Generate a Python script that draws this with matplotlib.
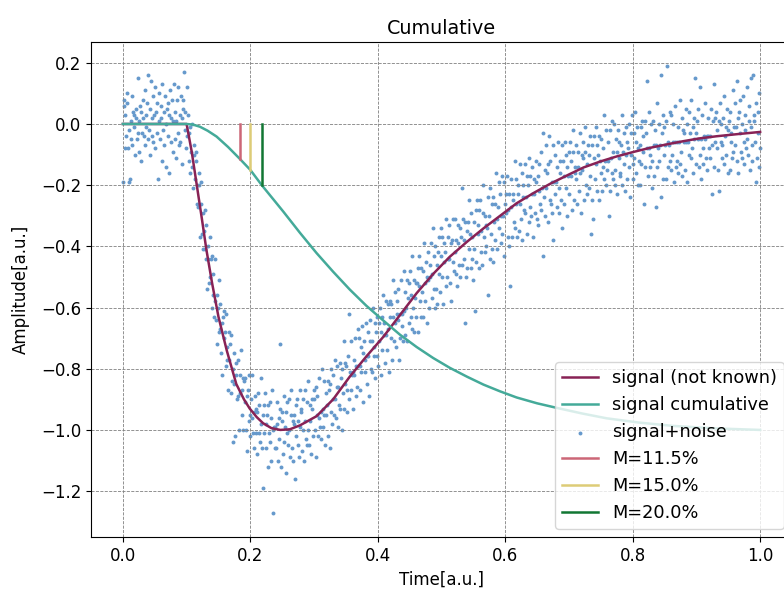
import numpy as np
import matplotlib.pyplot as plt

plt.rcParams['font.size'] = 12

# smooth signal
signal_t = [0.0, 0.1, 0.108, 0.116, 0.124, 0.131, 0.140, 0.150, 0.163, 0.178, 0.190,
            0.199, 0.210, 0.220, 0.233, 0.247, 0.262, 0.278, 0.304, 0.33, 0.356, 0.382,
            0.409, 0.435, 0.461, 0.487, 0.513, 0.54, 0.566, 0.592, 0.618, 0.645, 0.670,
            0.70, 0.723, 0.75, 0.775, 0.80, 0.827, 0.855, 0.880, 0.905, 0.932, 0.965, 1.0]
signal_v = [0, 0, -0.09, -0.20, -0.31, -0.41, -0.52, -0.63, -0.74, -0.85, -0.90,
            -0.93, -0.958, -0.978, -0.994, -1.0, -0.998, -0.985, -0.955, -0.90, -0.826, -0.76,
            -0.695, -0.624, -0.553, -0.49, -0.434, -0.385, -0.341, -0.30, -0.259, -0.225, -0.196,
            -0.165, -0.142, -0.122, -0.106, -0.092, -0.078, -0.066, -0.056, -0.047, -0.040, -0.033, -0.026]

# cumulative of the signal
cum_t = [0.0, 0.1, 0.11, 0.121, 0.133, 0.147, 0.165, 0.184, 0.2, 0.218, 0.236, 0.252, 0.278,
         0.304, 0.33, 0.356, 0.382, 0.409, 0.435, 0.461, 0.487, 0.513, 0.54, 0.566, 0.592,
         0.618, 0.65, 0.681, 0.72, 0.759, 0.81, 0.864, 0.93, 1.0]
cum_v = [0, 0, -0.002, -0.009, -0.022, -0.041, -0.075, -0.115, -0.150, -0.200, -0.246, -0.287, -0.356,
         -0.422, -0.483, -0.541, -0.594, -0.643, -0.689, -0.729, -0.765, -0.797, -0.826, -0.852, -0.874,
         -0.894, -0.913, -0.928, -0.946, -0.962, -0.976, -0.987, -0.995, -1.0]

# thresholds
m_labels = ['M=11.5%', 'M=15.0%', 'M=20.0%']
m_levels = [0.115, 0.15, 0.20]
m_times = [0.184, 0.199, 0.218]
m_colors = ['#CC6677', '#DDCC77', '#117733']

# noisy samples, evenly spaced in time
noisy = [
    -0.19, 0.08, 0.06, -0.08, 0.03, -0.04, 0.10, 0.07, -0.08, -0.02,
    -0.19, -0.18, 0.01, -0.05, 0.09, -0.07, 0.04, -0.01, 0.03, -0.10,
    0.02, 0.05, -0.05, 0.15, -0.03, 0.01, -0.09, 0.06, -0.12, 0.04,
    -0.03, 0.08, 0.02, -0.04, 0.11, -0.07, 0.03, -0.01, 0.07, -0.05,
    0.16, -0.02, 0.05, -0.10, 0.14, 0.02, -0.04, 0.09, -0.06, 0.03,
    -0.08, 0.12, 0.04, -0.03, 0.07, -0.18, 0.01, 0.10, -0.05, 0.02,
    0.06, -0.12, 0.13, -0.02, 0.04, -0.07, 0.09, 0.00, -0.14, 0.05,
    -0.04, 0.07, -0.16, 0.03, 0.11, -0.06, 0.02, 0.08, -0.09, 0.01,
    0.13, -0.05, 0.04, -0.11, 0.01, 0.08, -0.03, 0.12, -0.07, 0.03,
    -0.06, 0.09, 0.02, -0.13, 0.05, 0.08, 0.17, -0.02, 0.04, -0.08,
    0.12, -0.04, 0.03, -0.12, -0.03, -0.16, -0.01, -0.09, 0.00, -0.14,
    -0.21, -0.10, -0.07, -0.18, -0.12, -0.09, -0.26, -0.20, -0.27, -0.16,
    -0.20, -0.37, -0.26, -0.19, -0.36, -0.29, -0.41, -0.35, -0.28, -0.41,
    -0.44, -0.33, -0.54, -0.40, -0.44, -0.52, -0.37, -0.50, -0.44, -0.60,
    -0.43, -0.56, -0.49, -0.63, -0.44, -0.58, -0.64, -0.56, -0.72, -0.60,
    -0.68, -0.51, -0.67, -0.59, -0.75, -0.65, -0.82, -0.63, -0.70, -0.61,
    -0.68, -0.79, -0.62, -0.77, -0.73, -0.87, -0.68, -0.77, -0.72, -0.88,
    -0.69, -0.84, -1.04, -0.80, -0.75, -0.85, -1.02, -0.78, -0.82, -0.90,
    -0.89, -0.77, -1.00, -0.82, -0.88, -0.74, -0.95, -0.87, -1.00, -0.83,
    -0.84, -0.91, -0.83, -1.00, -0.89, -1.07, -0.87, -0.97, -0.82, -0.95,
    -1.02, -0.90, -0.96, -0.82, -1.01, -0.94, -1.06, -0.89, -0.93, -1.01,
    -0.94, -1.08, -0.88, -1.01, -0.92, -1.04, -0.83, -0.98, -1.06, -0.95,
    -1.19, -0.92, -1.01, -0.88, -1.06, -0.98, -0.95, -1.12, -0.92, -1.01,
    -0.91, -1.04, -0.96, -1.10, -0.87, -1.00, -1.27, -0.99, -1.06, -0.99,
    -1.06, -0.91, -0.98, -1.10, -0.96, -1.03, -0.93, -0.72, -1.12, -0.94,
    -0.97, -1.08, -0.89, -1.04, -0.99, -1.14, -0.94, -1.01, -0.91, -1.05,
    -0.90, -1.00, -1.09, -0.95, -0.87, -1.06, -0.97, -1.10, -0.95, -0.98,
    -1.16, -0.92, -1.02, -0.90, -1.05, -0.97, -1.09, -0.87, -0.99, -0.93,
    -0.94, -1.07, -0.90, -1.00, -1.10, -0.87, -0.97, -1.03, -0.91, -1.05,
    -1.00, -0.84, -1.05, -0.92, -0.97, -1.08, -0.90, -0.93, -1.02, -0.87,
    -0.90, -1.00, -0.86, -1.09, -0.95, -0.89, -1.02, -0.96, -0.83, -0.99,
    -1.03, -0.94, -0.80, -0.99, -0.93, -0.95, -0.84, -1.05, -0.88, -0.95,
    -0.92, -1.02, -0.84, -0.87, -1.06, -0.85, -0.94, -0.80, -0.98, -0.90,
    -0.82, -0.95, -0.90, -0.77, -0.96, -0.86, -0.79, -0.99, -0.86, -0.92,
    -0.93, -0.78, -0.83, -1.00, -0.80, -0.88, -0.71, -0.93, -0.85, -0.78,
    -0.79, -0.87, -0.94, -0.76, -0.62, -0.90, -0.81, -0.71, -0.87, -0.82,
    -0.93, -0.81, -0.77, -0.82, -0.70, -0.89, -0.79, -0.86, -0.67, -0.79,
    -0.70, -0.79, -0.87, -0.73, -0.81, -0.66, -0.91, -0.75, -0.71, -0.77,
    -0.81, -0.65, -0.76, -0.85, -0.68, -0.76, -0.89, -0.71, -0.64, -0.80,
    -0.71, -0.81, -0.60, -0.76, -0.73, -0.65, -0.83, -0.68, -0.76, -0.63,
    -0.79, -0.65, -0.71, -0.60, -0.82, -0.68, -0.63, -0.74, -0.56, -0.69,
    -0.65, -0.78, -0.58, -0.69, -0.74, -0.59, -0.67, -0.81, -0.63, -0.58,
    -0.70, -0.59, -0.77, -0.63, -0.51, -0.71, -0.65, -0.55, -0.73, -0.62,
    -0.58, -0.64, -0.54, -0.77, -0.62, -0.70, -0.51, -0.62, -0.66, -0.71,
    -0.61, -0.48, -0.69, -0.55, -0.60, -0.51, -0.71, -0.57, -0.52, -0.65,
    -0.48, -0.63, -0.56, -0.67, -0.43, -0.60, -0.51, -0.68, -0.57, -0.52,
    -0.63, -0.52, -0.47, -0.68, -0.53, -0.43, -0.58, -0.63, -0.47, -0.55,
    -0.48, -0.63, -0.39, -0.52, -0.58, -0.45, -0.50, -0.65, -0.42, -0.51,
    -0.60, -0.46, -0.50, -0.39, -0.57, -0.49, -0.34, -0.54, -0.43, -0.60,
    -0.40, -0.54, -0.46, -0.59, -0.42, -0.49, -0.37, -0.55, -0.43, -0.34,
    -0.50, -0.37, -0.59, -0.39, -0.45, -0.42, -0.53, -0.31, -0.50, -0.44,
    -0.37, -0.44, -0.33, -0.52, -0.39, -0.58, -0.38, -0.45, -0.31, -0.48,
    -0.42, -0.31, -0.49, -0.38, -0.53, -0.33, -0.39, -0.46, -0.34, -0.50,
    -0.37, -0.21, -0.46, -0.31, -0.44, -0.38, -0.32, -0.65, -0.50, -0.35,
    -0.47, -0.32, -0.25, -0.41, -0.36, -0.47, -0.29, -0.44, -0.37, -0.51,
    -0.32, -0.41, -0.61, -0.28, -0.45, -0.25, -0.36, -0.33, -0.47, -0.28,
    -0.25, -0.42, -0.35, -0.46, -0.29, -0.20, -0.37, -0.42, -0.30, -0.33,
    -0.40, -0.34, -0.56, -0.24, -0.30, -0.44, -0.21, -0.36, -0.26, -0.41,
    -0.24, -0.45, -0.32, -0.26, -0.38, -0.16, -0.31, -0.41, -0.27, -0.19,
    -0.34, -0.23, -0.39, -0.30, -0.17, -0.36, -0.30, -0.19, -0.43, -0.26,
    -0.23, -0.29, -0.17, -0.37, -0.28, -0.40, -0.23, -0.53, -0.18, -0.27,
    -0.37, -0.23, -0.25, -0.32, -0.12, -0.34, -0.18, -0.26, -0.37, -0.20,
    -0.23, -0.35, -0.13, -0.26, -0.31, -0.16, -0.38, -0.20, -0.24, -0.28,
    -0.13, -0.29, -0.24, -0.17, -0.36, -0.20, -0.11, -0.32, -0.27, -0.17,
    -0.30, -0.23, -0.14, -0.37, -0.18, -0.23, -0.29, -0.12, -0.19, -0.31,
    -0.17, -0.33, -0.22, -0.13, -0.26, -0.09, -0.28, -0.21, -0.43, -0.03,
    -0.24, -0.15, -0.30, -0.07, -0.21, -0.16, -0.32, -0.13, -0.04, -0.25,
    -0.12, -0.26, -0.19, -0.29, -0.07, -0.38, -0.19, -0.23, -0.10, -0.19,
    -0.27, -0.14, -0.06, -0.21, -0.29, -0.12, -0.16, -0.25, -0.07, -0.34,
    -0.12, -0.26, -0.17, -0.06, -0.21, -0.10, -0.30, -0.14, -0.17, -0.09,
    -0.23, -0.06, -0.17, -0.12, -0.28, -0.09, -0.02, -0.25, -0.14, -0.16,
    -0.07, -0.18, -0.26, -0.09, -0.14, -0.22, -0.03, -0.16, -0.29, -0.10,
    -0.15, -0.06, -0.11, -0.25, -0.09, -0.01, -0.20, -0.23, -0.13, -0.07,
    -0.10, -0.21, -0.04, -0.17, -0.36, -0.07, -0.25, -0.31, -0.11, -0.04,
    -0.18, -0.01, -0.13, -0.07, -0.22, -0.10, -0.25, -0.04, -0.12, -0.16,
    -0.05, -0.22, -0.08, -0.14, 0.03, -0.18, -0.12, -0.20, -0.02, -0.15,
    -0.12, -0.06, -0.30, -0.02, -0.22, -0.11, -0.16, 0.01, -0.18, -0.09,
    0.00, -0.15, -0.20, -0.05, -0.09, -0.23, -0.02, -0.11, -0.06, -0.17,
    -0.16, -0.07, 0.03, -0.20, -0.09, -0.03, -0.13, -0.22, -0.01, -0.10,
    -0.06, -0.18, -0.08, 0.00, -0.14, -0.24, -0.03, -0.10, 0.03, -0.13,
    -0.18, -0.03, -0.11, 0.04, -0.16, -0.06, -0.01, -0.20, -0.08, -0.12,
    -0.07, -0.20, -0.01, -0.13, 0.01, -0.09, -0.04, -0.26, 0.01, -0.14,
    -0.03, -0.08, 0.14, -0.17, -0.08, 0.04, -0.14, -0.10, 0.00, -0.21,
    -0.12, 0.01, -0.07, -0.17, -0.02, -0.27, -0.07, -0.14, 0.07, -0.08,
    0.00, -0.12, -0.07, 0.16, -0.24, -0.03, -0.18, 0.03, -0.10, -0.01,
    -0.07, 0.01, -0.18, 0.19, -0.06, -0.14, -0.07, 0.04, -0.12, -0.15,
    0.03, -0.10, -0.06, 0.00, -0.19, -0.06, 0.06, -0.14, -0.06, -0.12,
    -0.16, -0.01, -0.06, -0.13, 0.08, -0.09, 0.02, -0.17, -0.02, -0.06,
    -0.03, -0.15, 0.05, -0.06, 0.00, -0.19, -0.06, 0.04, -0.10, -0.03,
    -0.11, 0.08, -0.08, -0.01, -0.16, 0.02, -0.05, 0.15, -0.13, -0.03,
    0.01, -0.05, 0.05, -0.14, 0.12, -0.10, -0.05, -0.18, 0.03, -0.08,
    -0.13, -0.04, -0.05, 0.07, -0.11, -0.04, -0.15, 0.02, -0.04, -0.08,
    -0.04, -0.11, 0.05, -0.07, -0.23, 0.01, 0.13, -0.14, 0.02, -0.06,
    0.04, -0.08, -0.02, -0.15, 0.01, -0.22, 0.07, -0.06, 0.00, -0.11,
    -0.07, 0.02, -0.13, 0.09, -0.04, -0.01, -0.10, 0.05, -0.16, -0.02,
    0.01, -0.15, 0.04, -0.06, -0.03, -0.11, 0.11, -0.09, -0.01, 0.07,
    -0.07, -0.01, -0.12, 0.14, 0.02, -0.16, 0.04, -0.03, 0.08, -0.09,
    0.00, -0.11, 0.09, -0.06, -0.13, 0.03, -0.02, -0.08, 0.12, -0.05,
    -0.10, 0.06, 0.01, -0.15, 0.15, -0.01, -0.07, -0.12, 0.16, 0.03,
    0.01, -0.06, -0.19, 0.07, -0.11, -0.03, 0.04, -0.14, 0.10, -0.08,
]
noisy_t = np.linspace(0, 1, len(noisy))

fig = plt.figure(figsize=(7.84, 5.90), dpi=100)
ax = fig.add_axes([91 / 784, 53 / 590, 701 / 784, 495 / 590])

ax.plot(signal_t, signal_v, color='#882255', lw=1.8, label='signal (not known)')
ax.plot(cum_t, cum_v, color='#44AA99', lw=1.8, label='signal cumulative')
ax.scatter(noisy_t, noisy, s=8, color='#6699CC', linewidths=0, label='signal+noise')
for t, m, c, lab in zip(m_times, m_levels, m_colors, m_labels):
    ax.plot([t, t], [0, -m], color=c, lw=1.8, label=lab)

ax.set_xlim(-0.05, 1.05)
ax.set_ylim(-1.35, 0.268)
ax.grid(True, ls='--', color='gray', lw=0.6)
ax.set_title('Cumulative', fontsize=13.8)
ax.set_xlabel('Time[a.u.]')
ax.set_ylabel('Amplitude[a.u.]', labelpad=8)
ax.legend(loc='lower right', fontsize=12.8, borderaxespad=0.45)

fig.savefig('out.png', dpi=100)
